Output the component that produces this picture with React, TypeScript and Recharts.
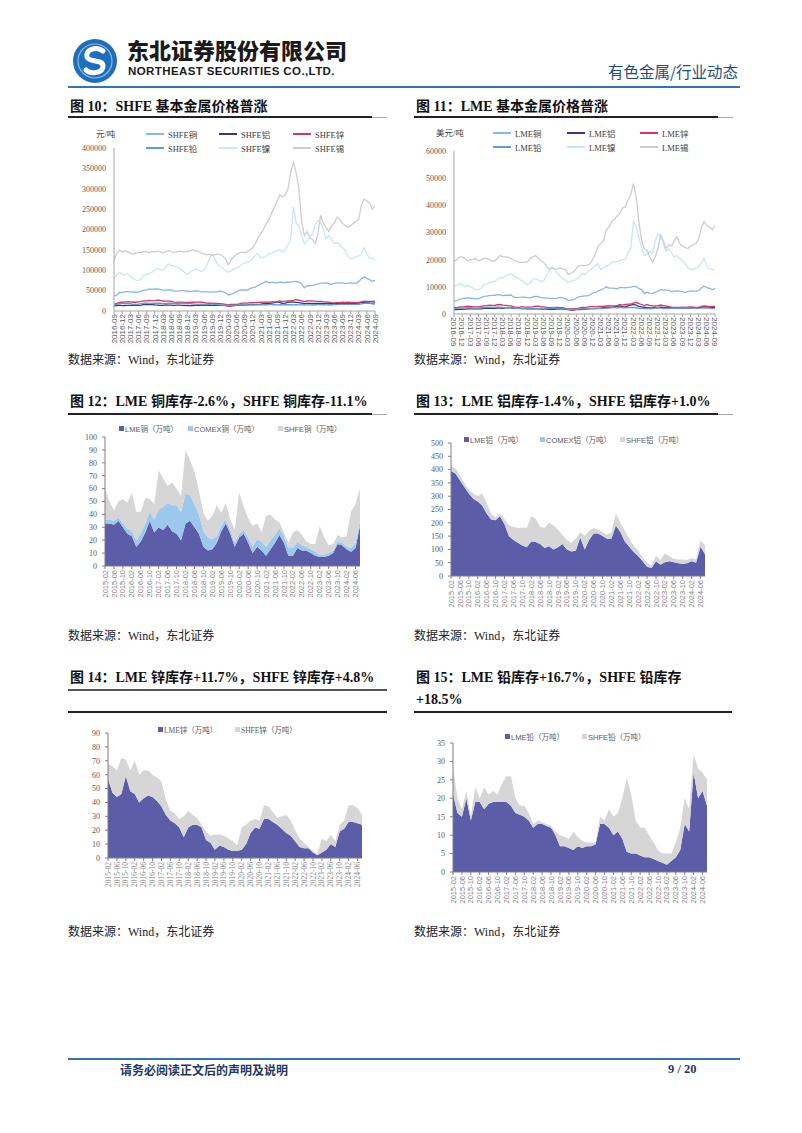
import React from 'react';
import { LineChart, Line, AreaChart, Area, XAxis, YAxis } from 'recharts';

const SERIF = '"Liberation Serif", "Noto Sans CJK SC", serif';
const SANS = '"Liberation Sans", "Noto Sans CJK SC", sans-serif';
const CJK = '"Noto Sans CJK SC", sans-serif';

function monthLabels(y0: number, m0: number, n: number, step: number): string[] {
  const out: string[] = [];
  let y = y0;
  let m = m0;
  for (let i = 0; i < n; i++) {
    out.push(`${y}-${String(m).padStart(2, '0')}`);
    m += step;
    while (m > 12) { m -= 12; y += 1; }
  }
  return out;
}

// ---------- categories ----------
const priceMonths = monthLabels(2016, 9, 97, 1); // 2016-09 .. 2024-09
const invMonths = monthLabels(2015, 2, 58, 2); // 2015-02 .. 2024-08

// ---------- SHFE prices (元/吨), monthly 2016-09..2024-09 ----------
const shfeCu = [
  37000, 38000, 46000, 45000,
  47000, 48000, 47000, 46000, 46000, 46500, 48000, 51000, 52000, 54000, 53000, 54000,
  54000, 53000, 51000, 51000, 51500, 52000, 49000, 49000, 49500, 50500, 49500, 48500,
  47500, 49000, 49500, 49000, 47000, 47000, 47000, 46500, 47000, 47000, 47000, 49000,
  47000, 45000, 39000, 41000, 43000, 47000, 51000, 51500, 51500, 51500, 55000, 57500,
  58500, 63000, 66000, 69000, 73000, 69000, 70000, 70000, 69000, 71000, 70000, 70000,
  70500, 71000, 72000, 72500, 71000, 67000, 57000, 62000, 62000, 63000, 65000, 66000,
  68500, 68500, 69000, 68000, 65000, 68000, 69000, 69000, 69000, 67000, 68000, 69000,
  68500, 68000, 72000, 79000, 84000, 80000, 77000, 73000, 75000,
];
const shfeAl = [
  12500, 13500, 14500, 13000,
  13500, 14000, 13800, 14000, 14000, 13800, 14500, 16000, 16500, 16000, 15500, 14800,
  14500, 14000, 14000, 14800, 14600, 14400, 14000, 14500, 14300, 14000, 13700, 13500,
  13400, 13500, 13700, 13900, 14000, 13800, 13900, 14000, 14000, 13800, 13900, 14000,
  14000, 13500, 12000, 12000, 13000, 13800, 14500, 14500, 14500, 15000, 16000, 16000,
  15500, 16500, 17000, 18000, 19000, 18500, 19500, 20500, 22500, 21000, 18500, 19500,
  21500, 22500, 22000, 21000, 20500, 19500, 18000, 18500, 18500, 18500, 18500, 18500,
  18500, 18500, 18500, 18800, 18000, 18200, 18500, 18800, 19500, 19000, 19000, 18800,
  19000, 19000, 19200, 20500, 21000, 20500, 19800, 19500, 20000,
];
const shfeZn = [
  17000, 18500, 21000, 21500,
  22000, 23000, 22500, 21500, 21500, 22500, 23500, 25000, 25000, 26000, 25000, 25500,
  26500, 26000, 24500, 24000, 24000, 24000, 22000, 21000, 22000, 22000, 21000, 21000,
  21000, 21500, 22000, 22000, 21500, 21000, 19500, 19000, 19000, 18500, 18500, 18000,
  17500, 16500, 15000, 16000, 16500, 16500, 17500, 19500, 19500, 19500, 20500, 20500,
  20500, 21000, 21500, 21800, 22000, 22000, 22500, 22500, 22500, 25000, 23500, 24000,
  25000, 25000, 26000, 28000, 26500, 25000, 23000, 24500, 25000, 25000, 24000, 23500,
  23800, 23000, 22500, 22000, 20500, 20000, 20500, 20500, 21500, 21000, 21500, 21000,
  21000, 20500, 21000, 22500, 24000, 23500, 23500, 23500, 24000,
];
const shfePb = [
  15000, 16000, 18000, 18500,
  19000, 18500, 18000, 16500, 16500, 16800, 18000, 19000, 19500, 19500, 18500, 19000,
  19000, 19000, 18000, 18000, 19000, 19500, 18500, 18500, 18500, 19000, 18500, 18500,
  18000, 17500, 17000, 16500, 16000, 16500, 16000, 16500, 17500, 16500, 15500, 14800,
  14500, 14000, 13700, 14000, 14200, 14500, 15000, 15000, 15000, 14700, 15000, 15000,
  15000, 15000, 15200, 15500, 15400, 15500, 15500, 15300, 15000, 15500, 15000, 15300,
  15500, 15300, 15200, 15400, 15200, 15000, 15000, 15000, 15200, 15300, 15300, 15500,
  15500, 15300, 15200, 15300, 15300, 15400, 15500, 16200, 16500, 16500, 16500, 16200,
  16200, 16300, 16500, 17500, 18500, 19000, 19000, 17800, 17000,
];
const shfeNi = [
  80000, 88000, 95000, 90000,
  88000, 92000, 85000, 80000, 76000, 75000, 78000, 88000, 90000, 92000, 95000, 100000,
  105000, 102000, 100000, 108000, 115000, 112000, 110000, 108000, 105000, 100000, 95000, 90000,
  95000, 100000, 103000, 100000, 97000, 100000, 110000, 125000, 140000, 130000, 115000, 110000,
  105000, 100000, 95000, 98000, 103000, 105000, 108000, 115000, 118000, 120000, 122000, 128000,
  138000, 140000, 130000, 132000, 135000, 140000, 142000, 145000, 148000, 150000, 145000, 150000,
  162000, 175000, 255000, 215000, 210000, 185000, 165000, 172000, 182000, 188000, 212000, 222000,
  218000, 200000, 178000, 185000, 175000, 165000, 168000, 163000, 155000, 150000, 135000, 128000,
  130000, 133000, 135000, 140000, 155000, 140000, 130000, 130000, 124000,
];
const shfeSn = [
  125000, 140000, 150000, 145000,
  148000, 145000, 142000, 140000, 142000, 143000, 144000, 146000, 145000, 143000, 146000, 145000,
  147000, 145000, 143000, 146000, 148000, 146000, 143000, 145000, 147000, 146000, 145000, 146000,
  148000, 150000, 148000, 146000, 143000, 140000, 138000, 139000, 137000, 138000, 140000, 138000,
  135000, 128000, 113000, 125000, 132000, 138000, 142000, 145000, 143000, 145000, 150000, 155000,
  165000, 180000, 190000, 200000, 215000, 225000, 240000, 255000, 270000, 285000, 280000, 285000,
  300000, 340000, 365000, 340000, 300000, 220000, 185000, 195000, 180000, 175000, 165000, 190000,
  235000, 215000, 205000, 195000, 210000, 215000, 230000, 225000, 215000, 210000, 205000, 210000,
  215000, 220000, 225000, 260000, 275000, 270000, 265000, 250000, 258000,
];

// ---------- LME prices (美元/吨), monthly 2016-09..2024-09 ----------
const lmeCu = [
  4800, 4800, 5500, 5600,
  5800, 5900, 5800, 5700, 5600, 5700, 6000, 6500, 6600, 6800, 6850, 6900,
  7100, 7000, 6800, 6900, 6900, 7000, 6200, 6000, 6100, 6200, 6200, 6000,
  5950, 6300, 6450, 6400, 6000, 5900, 5950, 5700, 5750, 5750, 5850, 6100,
  5900, 5700, 4900, 5100, 5300, 5800, 6400, 6500, 6700, 6700, 7000, 7800,
  7900, 8500, 8900, 9300, 10000, 9500, 9500, 9400, 9300, 9800, 9700, 9600,
  9800, 9900, 10200, 10100, 9400, 9000, 7500, 8000, 7700, 7600, 8000, 8400,
  9000, 8900, 8800, 8800, 8200, 8400, 8500, 8400, 8200, 8000, 8200, 8500,
  8400, 8400, 8700, 9600, 10300, 9700, 9400, 9000, 9400,
];
const lmeAl = [
  1600, 1650, 1720, 1720,
  1800, 1870, 1900, 1920, 1920, 1890, 1900, 2050, 2100, 2150, 2100, 2100,
  2200, 2150, 2050, 2250, 2300, 2230, 2070, 2050, 2050, 2000, 1950, 1920,
  1850, 1860, 1880, 1850, 1800, 1780, 1800, 1750, 1750, 1730, 1780, 1770,
  1780, 1690, 1600, 1480, 1480, 1580, 1650, 1750, 1750, 1820, 1950, 2000,
  2000, 2100, 2200, 2300, 2450, 2450, 2500, 2600, 2850, 3000, 2650, 2700,
  3000, 3250, 3500, 3250, 2850, 2600, 2400, 2430, 2200, 2250, 2350, 2400,
  2550, 2400, 2350, 2350, 2250, 2200, 2170, 2150, 2200, 2200, 2200, 2200,
  2220, 2180, 2250, 2550, 2600, 2500, 2350, 2400, 2500,
];
const lmeZn = [
  2300, 2300, 2600, 2600,
  2700, 2850, 2800, 2650, 2600, 2600, 2800, 3000, 3100, 3250, 3200, 3200,
  3400, 3500, 3300, 3200, 3050, 3000, 2650, 2500, 2450, 2700, 2550, 2550,
  2550, 2650, 2850, 2850, 2650, 2600, 2450, 2300, 2350, 2400, 2400, 2300,
  2350, 2100, 1900, 1900, 1980, 2050, 2200, 2450, 2450, 2500, 2700, 2800,
  2650, 2800, 2800, 2850, 3000, 2950, 2970, 3000, 3050, 3500, 3300, 3500,
  3600, 3650, 4000, 4300, 3800, 3500, 3100, 3500, 3100, 3000, 2950, 3100,
  3300, 3100, 2950, 2750, 2500, 2400, 2450, 2450, 2550, 2450, 2550, 2600,
  2500, 2400, 2450, 2800, 3000, 2850, 2750, 2700, 2900,
];
const lmePb = [
  2000, 2050, 2200, 2200,
  2250, 2350, 2300, 2200, 2100, 2200, 2300, 2400, 2450, 2500, 2450, 2500,
  2550, 2550, 2400, 2350, 2400, 2450, 2200, 2100, 2000, 2000, 1950, 1950,
  2000, 2100, 2050, 1950, 1850, 1900, 1950, 2100, 2100, 2200, 2000, 1900,
  1950, 1850, 1700, 1650, 1650, 1750, 1800, 1950, 1900, 1800, 1950, 2000,
  2000, 2100, 1950, 2000, 2150, 2200, 2350, 2400, 2200, 2400, 2300, 2300,
  2350, 2350, 2400, 2300, 2100, 2050, 2000, 2050, 1900, 2000, 2200, 2300,
  2150, 2100, 2100, 2100, 2100, 2100, 2150, 2200, 2200, 2100, 2250, 2100,
  2150, 2100, 2050, 2200, 2250, 2200, 2150, 2000, 2050,
];
const lmeNi = [
  10300, 10500, 11200, 10800,
  10000, 10700, 10000, 9500, 9000, 9000, 9500, 10800, 11000, 11500, 11800, 12000,
  12800, 13500, 13300, 14000, 14500, 15000, 14000, 13500, 12800, 12300, 11300, 10800,
  11500, 12700, 13000, 12500, 12000, 12200, 14000, 16000, 17500, 16500, 15000, 14000,
  13000, 12500, 11500, 12000, 12300, 12700, 13500, 14800, 14500, 15500, 16000, 17000,
  17800, 18500, 16200, 17000, 17600, 18000, 19000, 19300, 19200, 19800, 20000, 20000,
  22500, 24000, 34000, 32000, 28000, 24500, 21500, 22000, 23000, 22000, 27000, 29500,
  28500, 26000, 23000, 24000, 22500, 21000, 21500, 20500, 19500, 18500, 17000, 16500,
  16200, 17000, 17500, 19000, 20500, 17500, 16500, 16500, 16000,
];
const lmeSn = [
  19500, 20000, 21000, 21000,
  20500, 19500, 20000, 20000, 20500, 19500, 20000, 20500, 20500, 20000, 19500, 19500,
  20500, 21500, 21000, 21000, 20800, 20500, 19800, 19500, 19000, 19000, 19000, 19200,
  20500, 21000, 21500, 20500, 19500, 19000, 17500, 16500, 17000, 16500, 16500, 17000,
  16500, 16500, 14500, 15000, 15500, 16800, 17800, 17900, 17800, 18000, 18500, 20000,
  22000, 25000, 26000, 27000, 31000, 32000, 34000, 35000, 36000, 37000, 39000, 39500,
  42000, 44000, 48000, 43000, 34000, 27000, 24000, 23500, 21000, 19000, 21000, 24000,
  29000, 27000, 24000, 25500, 25000, 27000, 28500, 26000, 25000, 24500, 24000, 25000,
  25500, 26000, 27500, 32000, 34000, 32500, 32000, 31000, 32500,
];

// ---------- inventories (万吨), bimonthly 2015-02..2024-08 ----------
const lmeCuInv = [
  33, 33, 32, 35, 30, 25,
  23, 15, 19, 26, 35, 26,
  30, 28, 32, 27, 25, 20,
  33, 35, 30, 25, 15, 12,
  13, 18, 27, 33, 25, 15,
  22, 25, 18, 10, 15, 12,
  8, 13, 18, 24, 18, 8,
  8, 14, 12, 12, 10, 8,
  7, 7, 8, 10, 17, 16,
  13, 11, 14, 31,
];
const comexCuInv = [
  3, 3, 3, 3, 3, 4,
  4, 5, 6, 7, 7, 10,
  14, 18, 17, 20, 22, 22,
  23, 20, 18, 15, 12, 10,
  8, 5, 4, 3, 3, 3,
  3, 3, 4, 5, 6, 7,
  7, 7, 6, 5, 5, 6,
  6, 5, 4, 3, 3, 3,
  2, 2, 2, 2, 2, 2,
  2, 3, 4, 4,
];
const shfeCuInv = [
  24, 14, 8, 12, 19, 20,
  30, 22, 17, 20, 10, 12,
  30, 22, 13, 18, 13, 12,
  34, 27, 25, 18, 14, 13,
  18, 24, 10, 13, 8, 10,
  32, 18, 15, 16, 12, 7,
  24, 20, 12, 5, 3, 4,
  12, 9, 8, 4, 4, 6,
  22, 13, 6, 5, 5, 4,
  8, 28, 30, 25,
];

const lmeAlInv = [
  395, 385, 360, 335, 310, 290,
  280, 265, 235, 212, 210, 225,
  195, 150, 135, 125, 115, 108,
  130, 128, 120, 105, 112, 100,
  108, 120, 100, 92, 95, 145,
  100, 135, 160, 160, 150, 140,
  140, 190, 165, 130, 110, 90,
  75, 55, 35, 30, 55, 42,
  52, 55, 52, 48, 45, 48,
  55, 50, 110, 82,
];
const comexAlInv = [
  1, 1, 1, 1, 1, 1,
  1, 1, 1, 1, 1, 1,
  1, 1, 1, 1, 1, 1,
  1, 1, 1, 1, 1, 1,
  1, 1, 1, 1, 1, 1,
  1, 1, 1, 1, 1, 1,
  1, 1, 1, 1, 1, 1,
  1, 1, 1, 1, 1, 1,
  1, 1, 1, 1, 1, 1,
  1, 1, 1, 1,
];
const shfeAlInv = [
  19, 19, 19, 14, 14, 19,
  19, 44, 39, 22, 9, 9,
  19, 39, 49, 54, 66, 71,
  94, 86, 64, 74, 87, 89,
  66, 34, 34, 32, 44, 19,
  49, 34, 19, 14, 14, 14,
  24, 44, 34, 39, 29, 24,
  19, 14, 14, 9, 19, 17,
  32, 19, 12, 13, 16, 11,
  12, 11, 24, 32,
];

const lmeZnInv = [
  57, 47, 44, 46, 59, 48,
  46, 40, 43, 45, 44, 41,
  37, 31, 27, 25, 22, 15,
  22, 24, 24, 22, 13, 11,
  6, 9, 8, 6, 5, 5,
  6, 10, 18, 22, 21, 28,
  28, 26, 24, 21, 18, 16,
  12, 8, 7, 7, 4, 2,
  4, 6, 10, 8, 19, 21,
  26, 26, 25, 24,
];
const shfeZnInv = [
  11, 19, 19, 26, 12, 15,
  24, 20, 20, 18, 16, 17,
  18, 11, 7, 7, 6, 15,
  12, 7, 5, 2, 6, 5,
  11, 8, 8, 8, 7, 4,
  16, 14, 9, 6, 6, 10,
  9, 7, 5, 9, 13, 11,
  8, 6, 4, 1, 1, 1,
  10, 6, 7, 4, 5, 6,
  12, 12, 11, 7,
];

const lmePbInv = [
  21, 16, 15, 20, 14, 19,
  19, 17, 18.5, 19, 19, 19,
  19, 18, 16, 15.5, 15, 14,
  12, 13, 13, 12.5, 12, 10,
  7, 7, 6.5, 6, 7, 6.5,
  7, 7, 7.5, 13, 13, 12,
  10, 11, 9, 5.5, 5, 5,
  4.5, 4, 4, 3.5, 3, 2.5,
  2, 3, 4, 6, 13, 11,
  27, 20, 22, 18,
];
const shfePbInv = [
  7, 4, 2, 2, 1, 4,
  1, 6, 2.5, 3, 2, 5,
  7, 8, 4, 2.5, 3, 2,
  1, 1, 0.5, 0.5, 0.5, 1,
  3, 2.5, 2.5, 5, 2.5, 2,
  1, 1, 0.5, 2, 1, 5,
  5, 5, 11, 20, 16, 9,
  7.5, 8, 6, 4.5, 3, 2.5,
  3, 2, 4, 6, 7, 6,
  5, 8, 5, 7,
];

// ---------- tick lists ----------
const shfeTicks = [0, 50000, 100000, 150000, 200000, 250000, 300000, 350000, 400000];
const lmeTicks = [0, 10000, 20000, 30000, 40000, 50000, 60000];
const cuInvTicks = [0, 10, 20, 30, 40, 50, 60, 70, 80, 90, 100];
const alInvTicks = [0, 50, 100, 150, 200, 250, 300, 350, 400, 450, 500];
const znInvTicks = [0, 10, 20, 30, 40, 50, 60, 70, 80, 90];
const pbInvTicks = [0, 5, 10, 15, 20, 25, 30, 35];

// ---------- tables ----------
const shfeRows = priceMonths.map((d, i) => ({
  d, cu: shfeCu[i], al: shfeAl[i], zn: shfeZn[i], pb: shfePb[i], ni: shfeNi[i], sn: shfeSn[i],
}));
const lmeRows = priceMonths.map((d, i) => ({
  d, cu: lmeCu[i], al: lmeAl[i], zn: lmeZn[i], pb: lmePb[i], ni: lmeNi[i], sn: lmeSn[i],
}));
const cuInvRows = invMonths.map((d, i) => ({ d, lme: lmeCuInv[i], comex: comexCuInv[i], shfe: shfeCuInv[i] }));
const alInvRows = invMonths.map((d, i) => ({ d, lme: lmeAlInv[i], comex: comexAlInv[i], shfe: shfeAlInv[i] }));
const znInvRows = invMonths.map((d, i) => ({ d, lme: lmeZnInv[i], shfe: shfeZnInv[i] }));
const pbInvRows = invMonths.map((d, i) => ({ d, lme: lmePbInv[i], shfe: shfePbInv[i] }));

// ---------- styles ----------
const PC = { cu: '#8ab8e6', al: '#2e3a8f', zn: '#d8365f', pb: '#5e9bd8', ni: '#c8e6f5', sn: '#cdcdcd' };
const IC = { lme: '#5b5da8', comex: '#9dc8ee', shfe: '#d6d6d6' };
const priceOrder: { key: keyof typeof PC; suffix: string }[] = [
  { key: 'cu', suffix: '铜' }, { key: 'al', suffix: '铝' }, { key: 'zn', suffix: '锌' },
  { key: 'pb', suffix: '铅' }, { key: 'ni', suffix: '镍' }, { key: 'sn', suffix: '锡' },
];

const DownTick = (p: any) => (
  <text transform={`translate(${p.x + 2.8},${p.y - 2}) rotate(-90)`} textAnchor="end"
    fontSize={8} fill="#595959" fontFamily={SANS}>{p.payload.value}</text>
);
const UpTick = (p: any) => (
  <text transform={`translate(${p.x - 2.8},${p.y - 2}) rotate(90)`} textAnchor="start"
    fontSize={8} fill="#595959" fontFamily={SANS}>{p.payload.value}</text>
);
const InvTick = (p: any) => (
  <text transform={`translate(${p.x + 2.6},${p.y - 1}) rotate(-90)`} textAnchor="end"
    fontSize={7.5} fill="#7f7f7f" fontFamily={p.serif ? SERIF : SANS}>{p.payload.value}</text>
);

const abs = (left: number, top: number, extra: React.CSSProperties = {}): React.CSSProperties => ({
  position: 'absolute', left, top, ...extra,
});

function Title({ left, top, text }: { left: number; top: number; text: string }) {
  return (
    <div style={abs(left, top, {
      fontFamily: SERIF, fontWeight: 'bold', fontSize: 14, lineHeight: '16px', color: '#111', whiteSpace: 'nowrap',
    })}>{text}</div>
  );
}

function Rule({ left, top }: { left: number; top: number }) {
  return (
    <>
      <div style={abs(left, top, { width: 304, height: 2, background: '#222' })} />
      <div style={abs(left + 304, top + 0.5, { width: 15, height: 1, background: '#aaa' })} />
    </>
  );
}

function Source({ left, top }: { left: number; top: number }) {
  return (
    <div style={abs(left, top, { fontFamily: SERIF, fontSize: 12, lineHeight: '14px', color: '#222', whiteSpace: 'nowrap' })}>
      数据来源：Wind，东北证券
    </div>
  );
}

function PriceLegend({ left, top, unit, prefix, xs, unitLeft }: { left: number; top: number; unit: string; prefix: string; xs: number[]; unitLeft: number }) {
  return (
    <>
      <div style={abs(unitLeft, top - 6, { fontFamily: SERIF, fontSize: 8.5, color: '#404040', lineHeight: '12px', whiteSpace: 'nowrap' })}>{unit}</div>
      {priceOrder.map((s, i) => {
        const x = xs[i % 3];
        const y = top + (i < 3 ? 0 : 14);
        return (
          <div key={s.key} style={abs(left + x, y - 6, { display: 'flex', alignItems: 'center', whiteSpace: 'nowrap', height: 12 })}>
            <svg width={18} height={4} style={{ marginRight: 4 }}>
              <line x1={0} y1={2} x2={18} y2={2} stroke={PC[s.key]} strokeWidth={2} />
            </svg>
            <span style={{ fontFamily: SERIF, fontSize: 8.5, color: '#404040' }}>{prefix + s.suffix}</span>
          </div>
        );
      })}
    </>
  );
}

function InvLegend({ top, items, serif }: { top: number; items: { x: number; color: string; label: string }[]; serif?: boolean }) {
  return (
    <>
      {items.map((it) => (
        <div key={it.label} style={abs(it.x, top - 6, { display: 'flex', alignItems: 'center', whiteSpace: 'nowrap', height: 12 })}>
          <span style={{ display: 'inline-block', width: 5, height: 5, background: it.color, marginRight: 1 }} />
          <span style={{ fontFamily: serif ? SERIF : SANS, fontSize: 7.5, color: '#595959' }}>{it.label}</span>
        </div>
      ))}
    </>
  );
}

function PriceChart({ rows, left, top, width, height, mTop, yW, xH, yMax, ticks, up }: any) {
  return (
    <div style={abs(left, top, { width, height, overflow: 'hidden' })}>
      <LineChart width={width} height={height} data={rows} margin={{ top: mTop, right: 5, left: 0, bottom: 0 }}>
        <XAxis dataKey="d" interval={2} height={xH} tickSize={3} tickLine={{ stroke: '#a6a6a6' }}
          axisLine={{ stroke: '#a6a6a6' }} tick={(p: any) => (up ? <UpTick {...p} /> : <DownTick {...p} />)} />
        <YAxis width={yW} type="number" domain={[0, yMax]} ticks={ticks} allowDataOverflow interval={0}
          tickLine={false} axisLine={{ stroke: '#a6a6a6' }}
          tick={{ fontSize: 8, fill: '#595959', fontFamily: SERIF }} />
        {priceOrder.map((s) => (
          <Line key={s.key} type="linear" dataKey={s.key} stroke={PC[s.key]} strokeWidth={1.3}
            dot={false} activeDot={false} isAnimationActive={false} />
        ))}
      </LineChart>
    </div>
  );
}

function InvChart({ rows, keys, left, top, width, height, mTop, yW, xH, yMax, ticks, serif }: any) {
  return (
    <div style={abs(left, top, { width, height, overflow: 'hidden' })}>
      <AreaChart width={width} height={height} data={rows} margin={{ top: mTop, right: 5, left: 0, bottom: 0 }}>
        <XAxis dataKey="d" interval={1} height={xH} tickSize={3} tickLine={{ stroke: '#7f7f7f' }}
          axisLine={{ stroke: '#7f7f7f' }} tick={(p: any) => <InvTick {...p} serif={serif} />} />
        <YAxis width={yW} type="number" domain={[0, yMax]} ticks={ticks} allowDataOverflow interval={0}
          tickSize={3} tickMargin={5} tickLine={{ stroke: '#7f7f7f' }} axisLine={{ stroke: '#7f7f7f' }}
          tick={{ fontSize: 8, fill: '#595959', fontFamily: SERIF }} />
        {keys.map((k: 'lme' | 'comex' | 'shfe') => (
          <Area key={k} type="linear" dataKey={k} stackId="s" stroke="none" fill={IC[k]} fillOpacity={1}
            dot={false} activeDot={false} isAnimationActive={false} />
        ))}
      </AreaChart>
    </div>
  );
}

function Logo() {
  return (
    <svg width={48} height={48} style={abs(71, 37)}>
      <circle cx={24} cy={24} r={22} fill="#1d6fbd" />
      <circle cx={24} cy={24} r={17} fill="none" stroke="#ffffff" strokeWidth={1.2} opacity={0.5} />
      <path d="M32 14 C26 9, 14 12, 16 20 C18 26, 32 22, 32 29 C32 36, 20 38, 15 33"
        fill="none" stroke="#ffffff" strokeWidth={5} strokeLinecap="round" />
    </svg>
  );
}

export default function App() {
  return (
    <div style={{ position: 'absolute', left: 0, top: 0, width: 802, height: 1133, background: '#fff', overflow: 'hidden' }}>
      {/* header */}
      <Logo />
      <div style={abs(127, 37, { fontFamily: CJK, fontWeight: 900, fontSize: 22, lineHeight: '25px', color: '#1a1a1a', whiteSpace: 'nowrap' })}>
        东北证券股份有限公司
      </div>
      <div style={abs(128, 65, { fontFamily: SANS, fontWeight: 'bold', fontSize: 11.5, lineHeight: '13px', letterSpacing: 0.4, color: '#1a1a1a', whiteSpace: 'nowrap' })}>
        NORTHEAST SECURITIES CO.,LTD.
      </div>
      <div style={abs(608, 61, { fontFamily: CJK, fontSize: 15.5, lineHeight: '20px', color: '#1f4e79', whiteSpace: 'nowrap' })}>
        有色金属/行业动态
      </div>
      <div style={abs(68, 86, { width: 672, height: 2, background: '#2e75b6' })} />

      {/* row 1 */}
      <Title left={70} top={99} text="图 10：SHFE 基本金属价格普涨" />
      <Rule left={68} top={116} />
      <Title left={416} top={99} text="图 11：LME 基本金属价格普涨" />
      <Rule left={414} top={116} />

      <PriceChart rows={shfeRows} left={60} top={125} width={320} height={225} mTop={23} yW={54} xH={39}
        yMax={400000} ticks={shfeTicks} />
      <PriceLegend left={0} top={134} unit="元/吨" unitLeft={96} prefix="SHFE" xs={[146, 219, 293]} />

      <PriceChart rows={lmeRows} left={400} top={128} width={320} height={218} mTop={23} yW={54} xH={32}
        yMax={60000} ticks={lmeTicks} up />
      <PriceLegend left={0} top={133} unit="美元/吨" unitLeft={436} prefix="LME" xs={[493, 567, 640]} />

      <Source left={68} top={353} />
      <Source left={414} top={353} />

      {/* row 2 */}
      <Title left={70} top={394} text="图 12：LME 铜库存-2.6%，SHFE 铜库存-11.1%" />
      <Rule left={68} top={413} />
      <Title left={416} top={394} text="图 13：LME 铝库存-1.4%，SHFE 铝库存+1.0%" />
      <Rule left={414} top={413} />

      <InvChart rows={cuInvRows} keys={['lme', 'comex', 'shfe']} left={60} top={420} width={305} height={182}
        mTop={17} yW={45} xH={36} yMax={100} ticks={cuInvTicks} />
      <InvLegend top={428} items={[
        { x: 119, color: IC.lme, label: 'LME铜（万吨）' },
        { x: 188, color: IC.comex, label: 'COMEX铜（万吨）' },
        { x: 278, color: IC.shfe, label: 'SHFE铜（万吨）' },
      ]} />

      <InvChart rows={alInvRows} keys={['lme', 'comex', 'shfe']} left={405} top={425} width={305} height={187}
        mTop={18} yW={46} xH={36} yMax={500} ticks={alInvTicks} />
      <InvLegend top={439} items={[
        { x: 464, color: IC.lme, label: 'LME铝（万吨）' },
        { x: 540, color: IC.comex, label: 'COMEX铝（万吨）' },
        { x: 620, color: IC.shfe, label: 'SHFE铝（万吨）' },
      ]} />

      <Source left={68} top={629} />
      <Source left={414} top={629} />

      {/* row 3 */}
      <Title left={70} top={670} text="图 14：LME 锌库存+11.7%，SHFE 锌库存+4.8%" />
      <div style={abs(68, 689, { width: 319, height: 2, background: '#555' })} />
      <div style={abs(68, 711, { width: 319, height: 2, background: '#222' })} />
      <Title left={416} top={670} text="图 15：LME 铅库存+16.7%，SHFE 铅库存" />
      <Title left={416} top={692} text="+18.5%" />
      <div style={abs(414, 711, { width: 318, height: 2, background: '#222' })} />

      <InvChart rows={znInvRows} keys={['lme', 'shfe']} left={60} top={715} width={307} height={187}
        mTop={18} yW={48} xH={44} yMax={90} ticks={znInvTicks} serif />
      <InvLegend top={729} serif items={[
        { x: 158, color: IC.lme, label: 'LME锌（万吨）' },
        { x: 235, color: IC.shfe, label: 'SHFE锌（万吨）' },
      ]} />

      <InvChart rows={pbInvRows} keys={['lme', 'shfe']} left={405} top={725} width={307} height={185}
        mTop={18} yW={48} xH={38} yMax={35} ticks={pbInvTicks} />
      <InvLegend top={736} items={[
        { x: 505, color: IC.lme, label: 'LME铅（万吨）' },
        { x: 582, color: IC.shfe, label: 'SHFE铅（万吨）' },
      ]} />

      <Source left={68} top={925} />
      <Source left={414} top={925} />

      {/* footer */}
      <div style={abs(68, 1058, { width: 672, height: 2, background: '#2e75b6' })} />
      <div style={abs(120, 1062, { fontFamily: CJK, fontWeight: 'bold', fontSize: 12, lineHeight: '15px', color: '#1f3864', whiteSpace: 'nowrap' })}>
        请务必阅读正文后的声明及说明
      </div>
      <div style={abs(668, 1062, { fontFamily: SERIF, fontWeight: 'bold', fontSize: 12.5, lineHeight: '15px', color: '#1f3864', whiteSpace: 'nowrap' })}>
        9 / 20
      </div>
    </div>
  );
}
